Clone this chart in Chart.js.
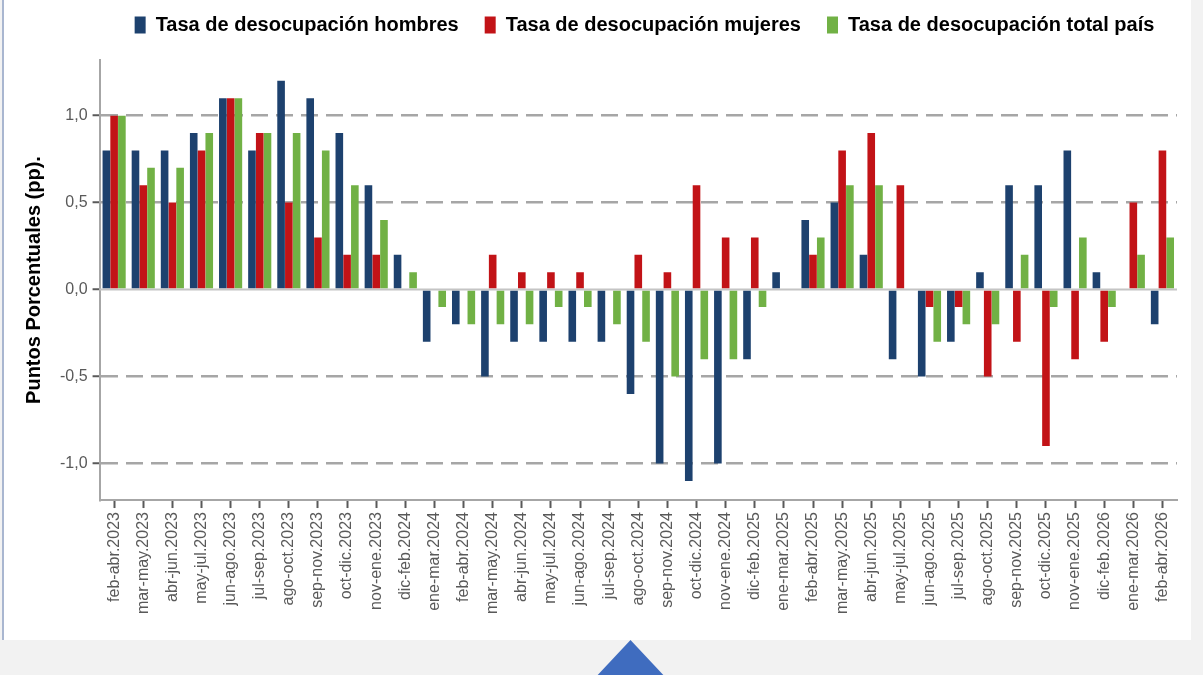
<!DOCTYPE html>
<html>
<head>
<meta charset="utf-8">
<script src="https://cdn.jsdelivr.net/npm/chart.js@4.4.1/dist/chart.umd.min.js"></script>
<style>
  body { margin: 0; background: #f2f2f2; width: 1203px; height: 675px; overflow: hidden; position: relative; }
  #card { position: absolute; left: 2px; top: 0; width: 1187px; height: 640px; background: #fff;
          border-left: 2px solid #a9b6d0; overflow: hidden; }
  #grafico { position: absolute; left: -2px; top: -11px; }
  #flecha { position: absolute; left: 593px; top: 640px; width: 75px; height: 40px; background: #3f6cbf;
            clip-path: polygon(50% 0, 100% 100%, 0 100%); }
</style>
</head>
<body>
<div id="card"><canvas id="grafico" width="1191" height="651"></canvas></div>
<div id="flecha"></div>
<script>
// Periodos (trimestres móviles)
const periodos = [
  'feb-abr.2023','mar-may.2023','abr-jun.2023','may-jul.2023','jun-ago.2023','jul-sep.2023',
  'ago-oct.2023','sep-nov.2023','oct-dic.2023','nov-ene.2023','dic-feb.2024','ene-mar.2024',
  'feb-abr.2024','mar-may.2024','abr-jun.2024','may-jul.2024','jun-ago.2024','jul-sep.2024',
  'ago-oct.2024','sep-nov.2024','oct-dic.2024','nov-ene.2024','dic-feb.2025','ene-mar.2025',
  'feb-abr.2025','mar-may.2025','abr-jun.2025','may-jul.2025','jun-ago.2025','jul-sep.2025',
  'ago-oct.2025','sep-nov.2025','oct-dic.2025','nov-ene.2025','dic-feb.2026','ene-mar.2026',
  'feb-abr.2026'
];

// Variación en puntos porcentuales
const hombres = [0.8,0.8,0.8,0.9,1.1,0.8,1.2,1.1,0.9,0.6,0.2,-0.3,-0.2,-0.5,-0.3,-0.3,-0.3,-0.3,
  -0.6,-1.0,-1.1,-1.0,-0.4,0.1,0.4,0.5,0.2,-0.4,-0.5,-0.3,0.1,0.6,0.6,0.8,0.1,0.0,-0.2];
const mujeres = [1.0,0.6,0.5,0.8,1.1,0.9,0.5,0.3,0.2,0.2,0.0,0.0,0.0,0.2,0.1,0.1,0.1,0.0,
  0.2,0.1,0.6,0.3,0.3,0.0,0.2,0.8,0.9,0.6,-0.1,-0.1,-0.5,-0.3,-0.9,-0.4,-0.3,0.5,0.8];
const total = [1.0,0.7,0.7,0.9,1.1,0.9,0.9,0.8,0.6,0.4,0.1,-0.1,-0.2,-0.2,-0.2,-0.1,-0.1,-0.2,
  -0.3,-0.5,-0.4,-0.4,-0.1,0.0,0.3,0.6,0.6,0.0,-0.3,-0.2,-0.2,0.2,-0.1,0.3,-0.1,0.2,0.3];

const ticksY = [-1, -0.5, 0, 0.5, 1];

const fuente = '"Liberation Sans", Arial, sans-serif';

// línea continua del cero (las demás son discontinuas)
const lineaCero = {
  id: 'lineaCero',
  beforeDatasetsDraw(chart) {
    const { ctx, chartArea, scales } = chart;
    const y = scales.y.getPixelForValue(0);
    ctx.save();
    ctx.strokeStyle = '#c4c4c4';
    ctx.lineWidth = 2;
    ctx.beginPath();
    ctx.moveTo(chartArea.left, y);
    ctx.lineTo(chartArea.right, y);
    ctx.stroke();
    ctx.restore();
  }
};

// más aire bajo la leyenda y leyenda corrida a la derecha
const ajusteLeyenda = {
  id: 'ajusteLeyenda',
  beforeInit(chart) {
    const fitOriginal = chart.legend.fit;
    chart.legend.fit = function () {
      fitOriginal.call(this);
      this.height += 15;
    };
  },
  afterLayout(chart) {
    chart.legend.left += 45;
    chart.legend.right += 45;
  }
};

const ctx = document.getElementById('grafico').getContext('2d');
new Chart(ctx, {
  type: 'bar',
  data: {
    labels: periodos,
    datasets: [
      { label: 'Tasa de desocupación hombres', data: hombres, backgroundColor: '#1d416e' },
      { label: 'Tasa de desocupación mujeres', data: mujeres, backgroundColor: '#c21317' },
      { label: 'Tasa de desocupación total país', data: total, backgroundColor: '#71b145' }
    ]
  },
  plugins: [lineaCero, ajusteLeyenda],
  options: {
    responsive: false,
    animation: false,
    layout: { padding: { left: 20, right: 16, top: 0, bottom: 22 } },
    datasets: { bar: { categoryPercentage: 0.8, barPercentage: 0.98 } },
    plugins: {
      tooltip: { enabled: false },
      legend: {
        position: 'top',
        align: 'center',
        labels: {
          boxWidth: 11, boxHeight: 17, padding: 26,
          color: '#000',
          font: { family: fuente, size: 20, weight: 'bold' }
        }
      }
    },
    scales: {
      x: {
        grid: { offset: false, drawOnChartArea: false, drawTicks: true, tickLength: 8, tickColor: '#595959', tickWidth: 2 },
        border: { color: '#a6a6a6', width: 2 },
        ticks: {
          maxRotation: 90, minRotation: 90, autoSkip: false, padding: 4,
          color: '#595959', font: { family: fuente, size: 16 }
        }
      },
      y: {
        min: -1.21, max: 1.32,
        afterBuildTicks: axis => { axis.ticks = ticksY.map(v => ({ value: v })); },
        grid: {
          color: c => c.tick && c.tick.value === 0 ? 'rgba(0,0,0,0)' : '#a6a6a6',
          lineWidth: 2.5,
          drawTicks: true, tickLength: 7, tickColor: '#595959', tickWidth: 2, tickBorderDash: []
        },
        border: { color: '#a6a6a6', width: 2, dash: [17, 8] },
        ticks: {
          color: '#595959', font: { family: fuente, size: 16 }, padding: 5,
          callback: v => v.toFixed(1).replace('.', ',')
        },
        title: {
          display: true, text: 'Puntos Porcentuales (pp).', color: '#000',
          font: { family: fuente, size: 20, weight: 'bold' }, padding: { top: 0, bottom: 9 }
        }
      }
    }
  }
});
</script>
</body>
</html>
